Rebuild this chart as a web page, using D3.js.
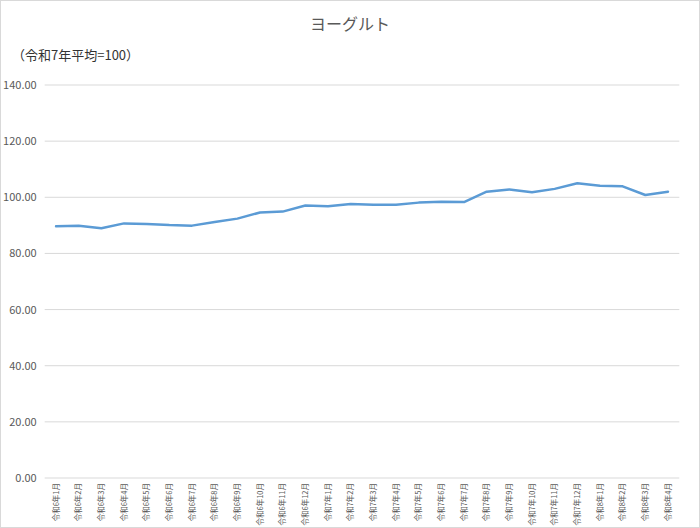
<!DOCTYPE html>
<html><head><meta charset="utf-8">
<script src="https://cdn.jsdelivr.net/npm/d3@7"></script>
<style>
html,body{margin:0;padding:0;background:#fff;}
svg{display:block;}
</style>
</head><body>
<svg id="chart" width="700" height="528"></svg>
<script>
const title = "ヨーグルト";
const unitLabel = "（令和7年平均=100）";
const categories = [
  "令和6年1月","令和6年2月","令和6年3月","令和6年4月","令和6年5月","令和6年6月",
  "令和6年7月","令和6年8月","令和6年9月","令和6年10月","令和6年11月","令和6年12月",
  "令和7年1月","令和7年2月","令和7年3月","令和7年4月","令和7年5月","令和7年6月",
  "令和7年7月","令和7年8月","令和7年9月","令和7年10月","令和7年11月","令和7年12月",
  "令和8年1月","令和8年2月","令和8年3月","令和8年4月"
];
const values = [
  89.7, 89.9, 89.0, 90.7, 90.5, 90.1,
  89.9, 91.2, 92.4, 94.6, 94.9, 97.1,
  96.8, 97.6, 97.3, 97.3, 98.1, 98.4,
  98.3, 102.0, 102.8, 101.8, 103.0, 105.0,
  104.1, 103.9, 100.8, 102.0
];
const yTicks = [0, 20, 40, 60, 80, 100, 120, 140];

const W = 700, H = 528;
const margin = {left: 44.7, right: 20.7, top: 85, bottom: 50};
const svg = d3.select("#chart");
const font = "'Noto Sans CJK JP', 'Noto Sans', sans-serif";

svg.append("rect").attr("x",0.5).attr("y",0.5).attr("width",W-1).attr("height",H-1)
  .attr("fill","#fff").attr("stroke","#d9d9d9");

const x = d3.scaleBand().domain(categories).range([margin.left, W - margin.right]);
const y = d3.scaleLinear().domain([0, 140]).range([H - margin.bottom, margin.top]);

// gridlines
svg.append("g").selectAll("line").data(yTicks).join("line")
  .attr("x1", margin.left).attr("x2", W - margin.right)
  .attr("y1", d => y(d)).attr("y2", d => y(d))
  .attr("stroke", "#d9d9d9").attr("stroke-width", 1);

// y axis labels
const yAxis = d3.axisLeft(y).tickValues(yTicks).tickFormat(d3.format(".2f")).tickSize(0).tickPadding(8);
const gy = svg.append("g").attr("transform", `translate(${margin.left},0)`).call(yAxis);
gy.select(".domain").remove();
gy.selectAll("text").attr("font-family", font).attr("font-size", 11).attr("fill", "#595959");

// x axis labels
const xAxis = d3.axisBottom(x).tickSize(0).tickPadding(0);
const gx = svg.append("g").attr("transform", `translate(0,${H - margin.bottom})`).call(xAxis);
gx.select(".domain").remove();
gx.selectAll("text")
  .attr("font-family", font).attr("font-size", 7.5).attr("fill", "#595959")
  .attr("text-anchor", "end")
  .attr("transform", "rotate(-90)")
  .attr("x", -5).attr("y", 0).attr("dy", "0.35em");

// line
const line = d3.line()
  .x((d, i) => x(categories[i]) + x.bandwidth() / 2)
  .y(d => y(d));
svg.append("path").datum(values)
  .attr("d", line).attr("fill", "none")
  .attr("stroke", "#5b9bd5").attr("stroke-width", 2.5)
  .attr("stroke-linejoin", "round").attr("stroke-linecap", "round");

// title
svg.append("text").attr("x", W/2).attr("y", 30).attr("text-anchor", "middle")
  .attr("font-family", font).attr("font-size", 16).attr("fill", "#595959").text(title);
svg.append("text").attr("x", 12).attr("y", 60)
  .attr("font-family", font).attr("font-size", 13).attr("fill", "#333").text(unitLabel);
</script>
</body></html>
